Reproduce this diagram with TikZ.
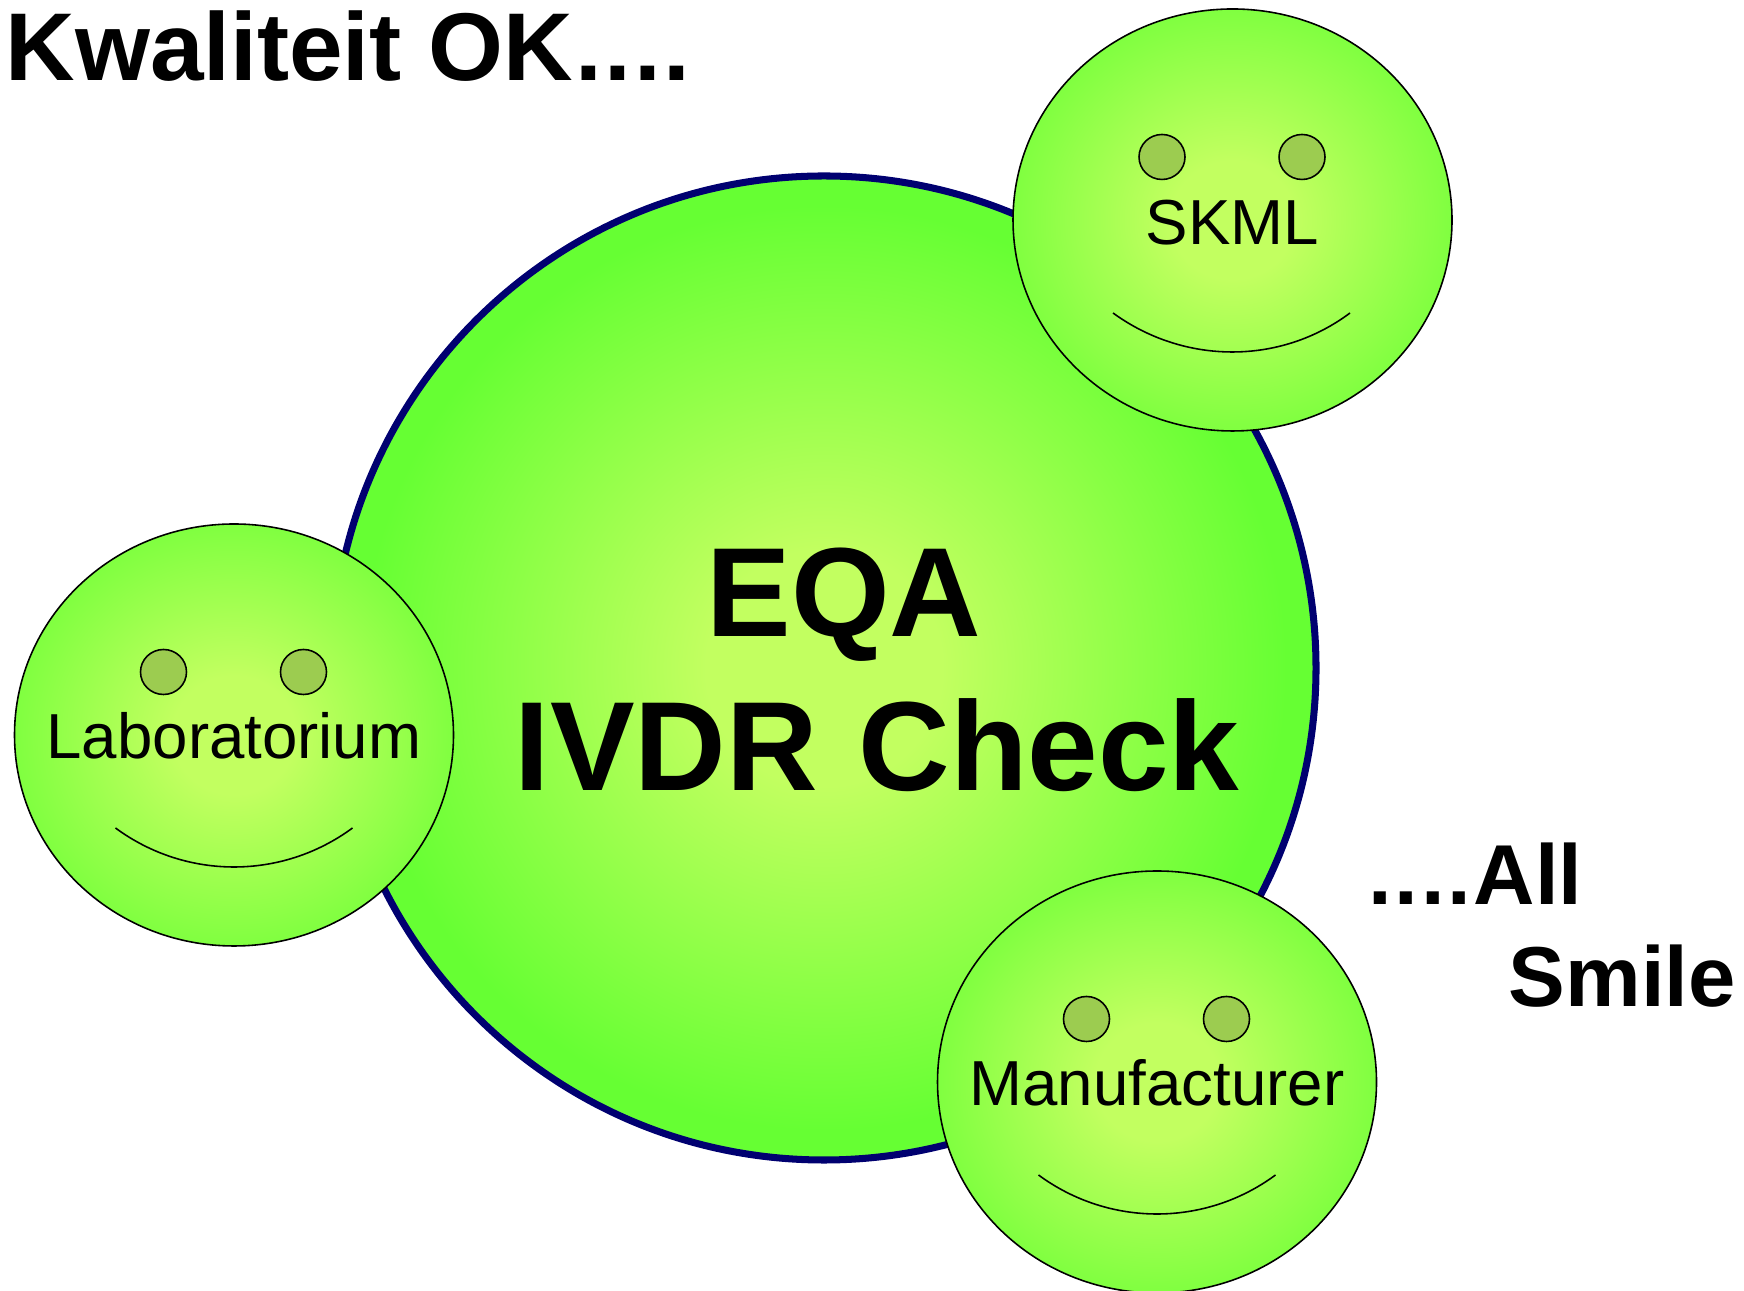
\documentclass[tikz,border=0pt]{standalone}
\usepackage{fontspec}
\setmainfont[Kerning=Off]{Liberation Sans}
\usetikzlibrary{shapes.geometric}

\definecolor{midgreen}{HTML}{C2FF60}
\definecolor{rimgreen}{HTML}{66FF33}
\definecolor{facerim}{HTML}{80FF40}
\definecolor{eyegreen}{HTML}{9CCC50}
\definecolor{ringblue}{HTML}{000070}
\pgfdeclareradialshading{discshade}{\pgfpointorigin}{color(0bp)=(midgreen); color(6bp)=(midgreen); color(23.5bp)=(rimgreen); color(50bp)=(rimgreen)}
\pgfdeclareradialshading{faceshade}{\pgfpointorigin}{color(0bp)=(midgreen); color(7bp)=(midgreen); color(25bp)=(facerim); color(50bp)=(facerim)}
\newcommand{\puntjes}{.\kern.75pt.\kern.75pt.\kern.75pt.}

\begin{document}
\begin{tikzpicture}

\tikzset{
  bigdisc/.style={circle, draw=ringblue, line width=2pt, minimum size=9.84cm, inner sep=0pt, shading=discshade},
  face/.style={ellipse, draw=black, line width=0.45pt, minimum width=4.39cm, minimum height=4.22cm, inner sep=0pt,
    shading=faceshade},
  facetext/.style={anchor=base, inner sep=0pt, font=\fontsize{18.1}{20}\selectfont},
  eyeball/.style={ellipse, draw=black, line width=0.45pt, minimum width=0.46cm, minimum height=0.45cm, inner sep=0pt,
    fill=eyegreen},
  smile/.style={line width=0.45pt},
  bigtext/.style={anchor=base, inner sep=0pt, font=\fontsize{36.1}{38}\selectfont\bfseries},
  sidetext/.style={anchor=base west, inner sep=0pt, font=\fontsize{24.2}{26}\selectfont\bfseries}
}

\useasboundingbox (0,0) rectangle (17.44,12.91);

% --- Grote cirkel ---
\node[bigdisc] (eqa) at (8.24,6.23) {};
\node[bigtext] (eqatext) at (8.44,6.54) {EQA};
\node[bigtext] (ivdrtext) at (8.772,5.00) {IVDR\kern1.6pt\ Check};

% --- Gezichten ---
% SKML
\node[face] (skml) at (12.325,10.71) {};
\node[facetext] (skmltext) at (12.325,10.46) {SKML};
\node[eyeball] (skmlL) at (11.62,11.34) {};
\node[eyeball] (skmlR) at (13.02,11.34) {};
\draw[smile] (11.13,9.78) .. controls (11.845,9.26) and (12.805,9.26) .. (13.50,9.78);

% Laboratorium
\node[face] (lab) at (2.34,5.56) {};
\node[facetext] (labtext) at (2.34,5.325) {Laboratorium};
\node[eyeball] (labL) at (1.635,6.19) {};
\node[eyeball] (labR) at (3.035,6.19) {};
\draw[smile] (1.155,4.63) .. controls (1.86,4.11) and (2.82,4.11) .. (3.525,4.63);

% Manufacturer
\node[face] (manu) at (11.57,2.09) {};
\node[facetext] (manutext) at (11.57,1.855) {Manufacturer};
\node[eyeball] (manuL) at (10.865,2.72) {};
\node[eyeball] (manuR) at (12.265,2.72) {};
\draw[smile] (10.385,1.16) .. controls (11.09,0.64) and (12.05,0.64) .. (12.755,1.16);

% --- Losse teksten ---
\node[anchor=base west, inner sep=0pt, font=\fontsize{27.4}{30}\selectfont\bfseries] (kop) at (0.05,12.10) {Kwaliteit OK\kern.75pt\puntjes};
\node[sidetext] (all) at (13.68,3.86) {\puntjes\kern.75pt All};
\node[sidetext] (lach) at (15.08,2.845) {Smile};

\end{tikzpicture}
\end{document}
